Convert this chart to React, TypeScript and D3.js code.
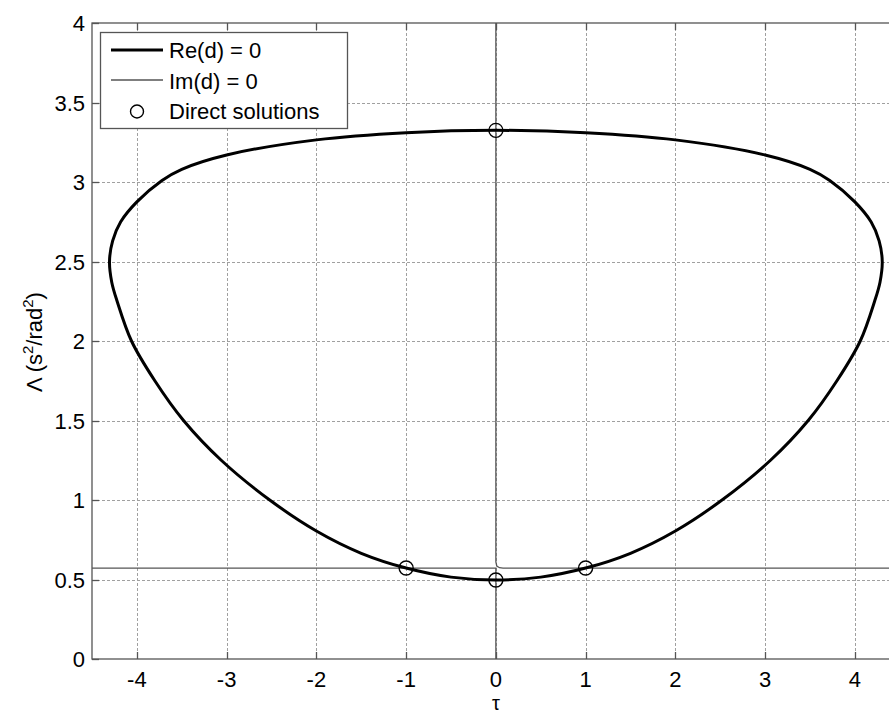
import React, { useRef, useEffect } from 'react';
import * as d3 from 'd3';

// Re(d) = 0 closed curve (tau, Lambda), clockwise from the top
const reTau = [0, 1, 2, 3, 3.5, 3.72, 4.0, 4.18, 4.27, 4.305, 4.28, 4.22, 4.06, 3.80, 3.48, 3.06, 2.52, 2.0, 1.5, 1.0, 0.5, 0,
  -0.5, -1.0, -1.5, -2.0, -2.52, -3.06, -3.48, -3.80, -4.06, -4.22, -4.28, -4.305, -4.27, -4.18, -4.0, -3.72, -3.5, -3, -2, -1];
const reLambda = [3.325, 3.31, 3.265, 3.17, 3.08, 3.01, 2.875, 2.75, 2.63, 2.5, 2.37, 2.25, 2.0, 1.75, 1.5, 1.25, 1.0, 0.805, 0.665, 0.572, 0.515, 0.497,
  0.515, 0.572, 0.665, 0.805, 1.0, 1.25, 1.5, 1.75, 2.0, 2.25, 2.37, 2.5, 2.63, 2.75, 2.875, 3.01, 3.08, 3.17, 3.265, 3.31];

// Im(d) = 0 branches
const imBranchA = { tau: [0, 0, 0.01, 0.04, 0.08, 4.5], lambda: [4, 0.61, 0.585, 0.574, 0.572, 0.572] };
const imBranchB = { tau: [-4.5, 0, 0], lambda: [0.572, 0.572, 0] };

// direct solutions
const solTau = [-1, 1, 0, 0];
const solLambda = [0.572, 0.572, 0.497, 3.325];

const xTicks = [-4, -3, -2, -1, 0, 1, 2, 3, 4];
const yTicks = [0, 0.5, 1, 1.5, 2, 2.5, 3, 3.5, 4];

const FONT = '"Liberation Sans", Arial, sans-serif';

const App = () => {
  const ref = useRef(null);

  useEffect(() => {
    const W = 889, H = 715;
    const left = 92, top = 23, bottom = 659;
    const svg = d3.select(ref.current);
    svg.selectAll('*').remove();

    const x = d3.scaleLinear().domain([-4.5, 4.5]).range([left, left + 9 * 89.75]);
    const y = d3.scaleLinear().domain([0, 4]).range([bottom, top]);
    const right = x(4.5);

    svg.append('rect').attr('width', W).attr('height', H).attr('fill', '#fff');

    // grid
    const grid = svg.append('g').attr('stroke', '#a0a0a0').attr('stroke-width', 1).attr('stroke-dasharray', '3,2');
    grid.selectAll('.gx').data(xTicks).enter().append('line')
      .attr('x1', d => Math.round(x(d)) + 0.5).attr('x2', d => Math.round(x(d)) + 0.5)
      .attr('y1', top).attr('y2', bottom);
    grid.selectAll('.gy').data(yTicks.slice(1, -1)).enter().append('line')
      .attr('y1', d => Math.round(y(d)) + 0.5).attr('y2', d => Math.round(y(d)) + 0.5)
      .attr('x1', left).attr('x2', right);

    // axes box + ticks
    const ax = svg.append('g').attr('stroke', '#555').attr('stroke-width', 1.3).attr('fill', 'none');
    ax.append('rect').attr('x', left).attr('y', top).attr('width', right - left).attr('height', bottom - top);
    xTicks.forEach(t => {
      const px = Math.round(x(t)) + 0.5;
      ax.append('line').attr('x1', px).attr('x2', px).attr('y1', bottom).attr('y2', bottom - 7);
      ax.append('line').attr('x1', px).attr('x2', px).attr('y1', top).attr('y2', top + 7);
    });
    yTicks.forEach(t => {
      const py = Math.round(y(t)) + 0.5;
      ax.append('line').attr('x1', left).attr('x2', left + 7).attr('y1', py).attr('y2', py);
    });

    svg.append('g').selectAll('text').data(xTicks).enter().append('text')
      .attr('x', d => x(d)).attr('y', 687)
      .attr('text-anchor', 'middle').attr('font-family', FONT).attr('font-size', 22)
      .text(d => String(d));
    svg.append('g').selectAll('text').data(yTicks).enter().append('text')
      .attr('x', 85).attr('y', d => y(d) + 8)
      .attr('text-anchor', 'end').attr('font-family', FONT).attr('font-size', 22)
      .text(d => String(d));

    // Im(d) = 0
    const line = d3.line<[number, number]>().x(d => x(d[0])).y(d => y(d[1]));
    [imBranchA, imBranchB].forEach(b => {
      svg.append('path')
        .attr('d', line(b.tau.map((t, i) => [t, b.lambda[i]] as [number, number])))
        .attr('fill', 'none').attr('stroke', '#555').attr('stroke-width', 1.3);
    });

    // Re(d) = 0
    const closed = d3.line<[number, number]>().x(d => x(d[0])).y(d => y(d[1]))
      .curve(d3.curveCatmullRomClosed.alpha(0.5));
    svg.append('path')
      .attr('d', closed(reTau.map((t, i) => [t, reLambda[i]] as [number, number])))
      .attr('fill', 'none').attr('stroke', '#000').attr('stroke-width', 3);

    // direct solutions
    svg.append('g').selectAll('circle').data(solTau).enter().append('circle')
      .attr('cx', d => x(d)).attr('cy', (d, i) => y(solLambda[i]))
      .attr('r', 7).attr('fill', 'none').attr('stroke', '#000').attr('stroke-width', 1.4);

    // legend
    const lg = svg.append('g');
    lg.append('rect').attr('x', 100.5).attr('y', 32.5).attr('width', 247).attr('height', 96)
      .attr('fill', '#fff').attr('stroke', '#555').attr('stroke-width', 1.3);
    lg.append('line').attr('x1', 111).attr('x2', 163).attr('y1', 50).attr('y2', 50)
      .attr('stroke', '#000').attr('stroke-width', 3);
    lg.append('line').attr('x1', 111).attr('x2', 163).attr('y1', 80).attr('y2', 80)
      .attr('stroke', '#555').attr('stroke-width', 1.3);
    lg.append('circle').attr('cx', 137).attr('cy', 111.5).attr('r', 6.5)
      .attr('fill', 'none').attr('stroke', '#000').attr('stroke-width', 1.4);
    const labels = ['Re(d) = 0', 'Im(d) = 0', 'Direct solutions'];
    labels.forEach((s, i) => {
      lg.append('text').attr('x', 169).attr('y', 58 + i * 30.5)
        .attr('font-family', FONT).attr('font-size', 22).text(s);
    });

    // axis labels
    svg.append('text').attr('x', x(0)).attr('y', 710).attr('text-anchor', 'middle')
      .attr('font-family', FONT).attr('font-size', 20).text('τ');
    const yl = svg.append('text').attr('transform', 'translate(42,342) rotate(-90)')
      .attr('text-anchor', 'middle').attr('font-family', FONT).attr('font-size', 22);
    yl.append('tspan').text('Λ (s');
    yl.append('tspan').attr('dy', -9).attr('font-size', 15).text('2');
    yl.append('tspan').attr('dy', 9).text('/rad');
    yl.append('tspan').attr('dy', -9).attr('font-size', 15).text('2');
    yl.append('tspan').attr('dy', 9).text(')');
  }, []);

  return (
    <svg ref={ref} width={889} height={715} style={{ position: 'absolute', left: 0, top: 0 }}></svg>
  );
};

export default App;
